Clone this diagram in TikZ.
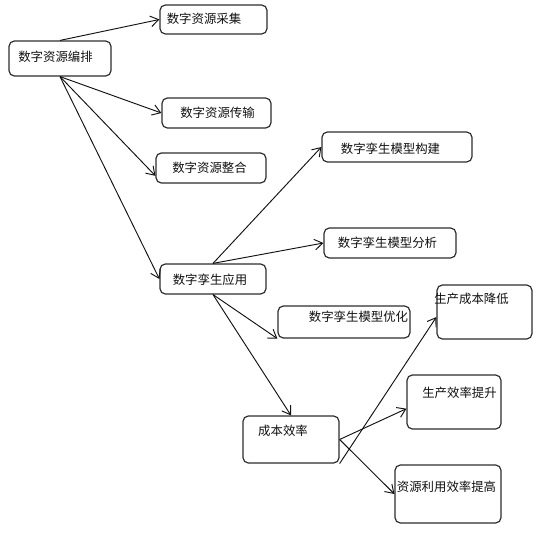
\documentclass[tikz,border=0pt]{standalone}
\usepackage{fontspec}
\newfontfamily\cjk{Noto Sans CJK SC}
\usetikzlibrary{arrows.meta,fit}
\definecolor{ink}{HTML}{111111}
\definecolor{edge}{HTML}{2E2E2E}
\definecolor{card}{HTML}{FFFFFF}

\begin{document}
\begin{tikzpicture}[x=0.75pt, y=-0.75pt,
      box/.style={draw=edge, line width=0.9pt, fill=card, rounded corners=4pt, inner sep=0pt},
      txt/.style={inner sep=0pt, font=\cjk\fontsize{9.3pt}{11pt}\selectfont, text=ink},
      arr/.style={-{Straight Barb[length=6pt,width=8pt]}, line width=0.7pt, color=ink}]
    \useasboundingbox (0,0) rectangle (540,536);
    % boxes
    \node[box, fit={(9,41) (111,76)}] (bianpai) {};
    \node[box, fit={(160,5) (267,34)}] (caiji) {};
    \node[box, fit={(162,98) (271,128)}] (chuanshu) {};
    \node[box, fit={(156,153) (266,183)}] (zhenghe) {};
    \node[box, fit={(160,264) (266,294)}] (yingyong) {};
    \node[box, fit={(322,132) (472,162)}] (goujian) {};
    \node[box, fit={(324,228) (456,258)}] (fenxi) {};
    \node[box, fit={(278,306) (410,338)}] (youhua) {};
    \node[box, fit={(243,416) (339,463)}] (chengben) {};
    \node[box, fit={(437,285) (532,339)}] (jiangdi) {};
    \node[box, fit={(407,375) (501,429)}] (tisheng) {};
    \node[box, fit={(395,465) (501,523)}] (liyong) {};
    % texts
    \node[txt] (t-bianpai) at (55.5,57) {数字资源编排};
    \node[txt] (t-caiji) at (204,19) {数字资源采集};
    \node[txt] (t-chuanshu) at (217.5,113) {数字资源传输};
    \node[txt] (t-zhenghe) at (209.5,168) {数字资源整合};
    \node[txt] (t-yingyong) at (210,280) {数字孪生应用};
    \node[txt] (t-goujian) at (390.5,149) {数字孪生模型构建};
    \node[txt] (t-fenxi) at (387.5,243) {数字孪生模型分析};
    \node[txt] (t-youhua) at (358.5,317) {数字孪生模型优化};
    \node[txt] (t-chengben) at (283,431) {成本效率};
    \node[txt] (t-jiangdi) at (471.5,299) {生产成本降低};
    \node[txt] (t-tisheng) at (459.5,393) {生产效率提升};
    \node[txt] (t-liyong) at (446.5,487) {资源利用效率提高};
    % connectors
    \draw[arr] (bianpai.north) -- (caiji.west);
    \draw[arr] (bianpai.south) -- (chuanshu.west);
    \draw[arr] (bianpai.south) -- (zhenghe.188);
    \draw[arr] (bianpai.south) -- (yingyong.west);
    \draw[arr] (yingyong.north) -- (goujian.west);
    \draw[arr] (yingyong.north) -- (fenxi.west);
    \draw[arr] (yingyong.south) -- (youhua.south west);
    \draw[arr] (yingyong.south) -- (chengben.north);
    \draw[arr] (chengben.south east) -- (jiangdi.186);
    \draw[arr] (chengben.east) -- (tisheng.188);
    \draw[arr] (chengben.east) -- (liyong.west);
  \end{tikzpicture}
\end{document}
